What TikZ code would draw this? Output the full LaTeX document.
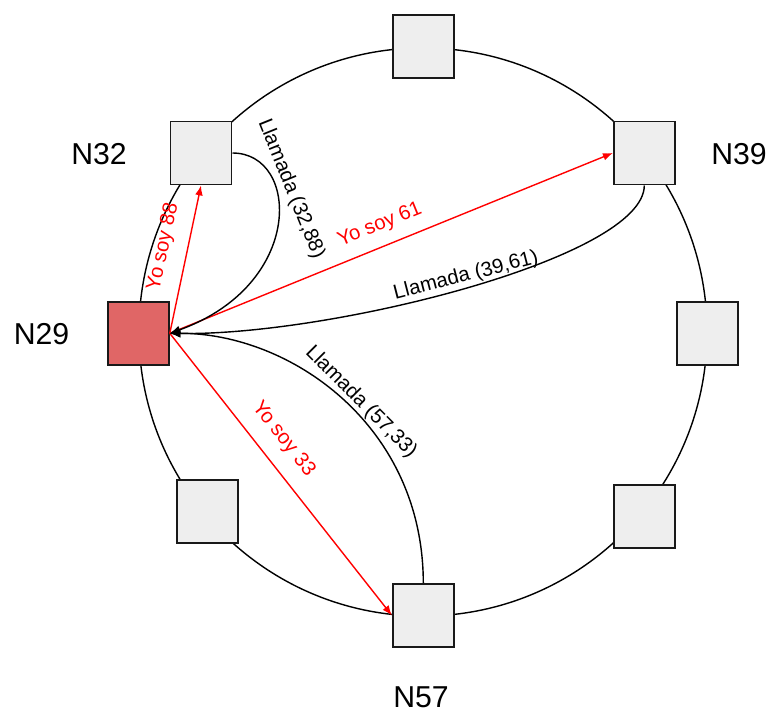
\documentclass[tikz,border=0pt]{standalone}
\usepackage{fontspec}
\setmainfont{Liberation Sans}
\usetikzlibrary{arrows.meta}
\definecolor{boxgray}{HTML}{EEEEEE}
\definecolor{peerred}{HTML}{E06666}

\begin{document}
\begin{tikzpicture}[x=0.025cm, y=-0.025cm]
\tikzstyle{peer} = [draw=black!90, line width=1.4pt, fill=boxgray, minimum width=1.525cm, minimum height=1.575cm, inner sep=0pt]
\tikzstyle{tag} = [font=\fontsize{21.5}{26}\selectfont, inner sep=0pt]
\tikzstyle{msg} = [font=\fontsize{14.5}{17}\selectfont, inner sep=1pt]
\tikzstyle{yo} = [red, line width=1pt, -{Latex[length=7pt, width=5.5pt]}]
\tikzstyle{call} = [line width=1pt, -{Latex[length=7.5pt, width=6pt]}]
\useasboundingbox (0,0) rectangle (771,713);
\draw[line width=1pt] (423,332) circle [radius=7.1cm];
% anillo
\node[peer] (top) at (423.5,46.5) {};
\node[peer] (n32) at (201,153) {};
\node[peer] (n39) at (644.3,153) {};
\node[peer] (right) at (707.7,333.2) {};
\node[peer] (lowright) at (644.3,516.7) {};
\node[peer] (n57) at (423.3,615.3) {};
\node[peer] (lowleft) at (207.2,511.3) {};
\node[peer, fill=peerred] (n29) at (138.3,333.3) {};
% nombres
\node[tag] (l32) at (99,154) {N32};
\node[tag] (l39) at (739,154) {N39};
\node[tag] (l29) at (41.5,334) {N29};
\node[tag] (l57) at (421,697) {N57};
% mensajes
\foreach \to in {n32.south, n39.west, n57.west}
\draw [yo] (n29.east) -- (\to);
\draw[call] (n32.east) .. controls (300,153) and (305,285) .. (n29.east);
\draw[call] (n39.south) .. controls (644,258) and (330,336) .. (n29.east);
\draw[call] (n57.north) .. controls (423,425) and (290,333) .. (n29.east);
% etiquetas
\node[msg, red, rotate=78] (yo88) at (163.5,247) {Yo soy 88};
\node[msg, red, rotate=22.2] (yo61) at (380,225) {Yo soy 61};
\node[msg, red, rotate=-51.8] (yo33) at (283.3,439.2) {Yo soy 33};
\node[msg, rotate=-68] (ll88) at (291,189) {Llamada (32,88)};
\node[msg, rotate=14.5] (ll61) at (466,276) {Llamada (39,61)};
\node[msg, rotate=-45] (ll33) at (361,402) {Llamada (57,33)};
\end{tikzpicture}
\end{document}
